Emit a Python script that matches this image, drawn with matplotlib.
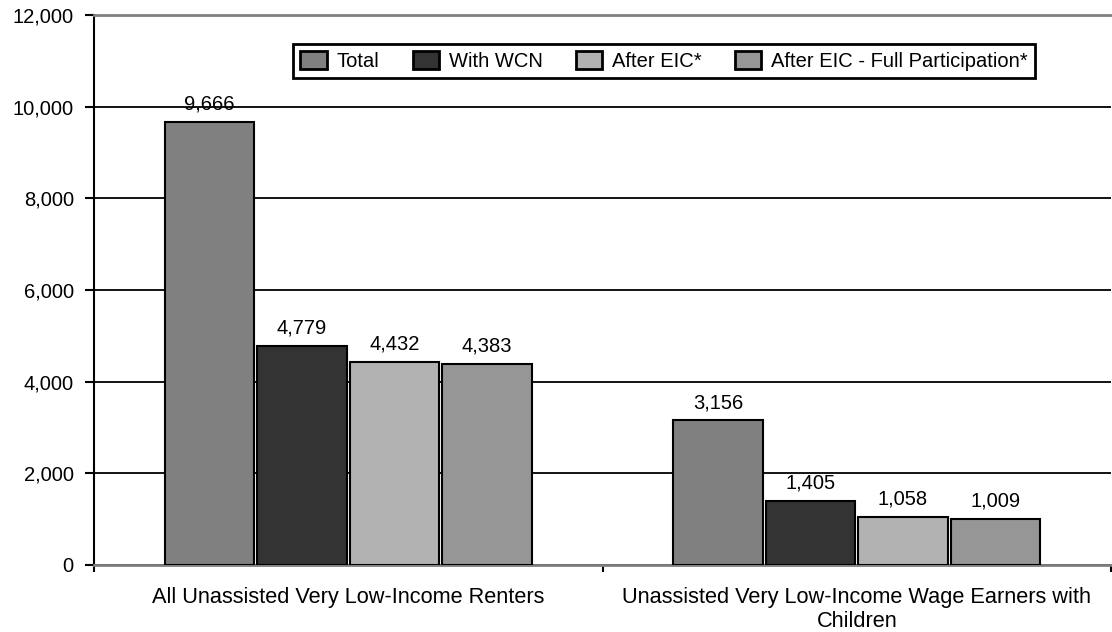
import numpy as np
import matplotlib
matplotlib.use("Agg")
import matplotlib.pyplot as plt
from matplotlib.ticker import FuncFormatter

plt.rcParams['font.family'] = ['Liberation Sans', 'DejaVu Sans']

# data
groups = ["All Unassisted Very Low-Income Renters",
          "Unassisted Very Low-Income Wage Earners with\nChildren"]
series = ["Total", "With WCN", "After EIC*", "After EIC - Full Participation*"]
total = [9666, 3156]
with_wcn = [4779, 1405]
after_eic = [4432, 1058]
after_eic_full = [4383, 1009]
colors = ["#808080", "#333333", "#b2b2b2", "#969696"]

values = [total, with_wcn, after_eic, after_eic_full]

fs = 14.5

fig = plt.figure(figsize=(11.12, 6.32), dpi=100)
ax = fig.add_axes([94 / 1112, 67 / 632, 1017 / 1112, 550 / 632])

centers = np.array([0.5, 1.5])
width = 0.176
step = 0.182
for i, (name, vals) in enumerate(zip(series, values)):
    x = centers + (i - 1.5) * step
    bars = ax.bar(x, vals, width, color=colors[i], edgecolor="black",
                  linewidth=1.5, label=name, zorder=3)
    for b, v in zip(bars, vals):
        ax.annotate(f"{v:,}", (b.get_x() + b.get_width() / 2, v),
                    xytext=(0, 6), textcoords="offset points",
                    ha="center", va="bottom", fontsize=fs)

ax.set_xlim(0, 1.98)
ax.set_ylim(0, 12000)
ax.set_yticks(range(0, 12001, 2000))
ax.yaxis.set_major_formatter(FuncFormatter(lambda v, p: f"{int(v):,}"))
ax.tick_params(axis="y", direction="out", length=6.5, width=1.5, pad=8, labelsize=fs)
ax.grid(axis="y", color="black", linewidth=1.3, zorder=0)

ax.set_xticks([0, 1, 2])
ax.set_xticklabels([])
ax.tick_params(axis="x", which="major", direction="out", length=5, width=1.5)
ax.set_xticks(centers, minor=True)
ax.set_xticklabels(groups, minor=True, fontsize=15.7)
ax.tick_params(axis="x", which="minor", length=0, pad=16)

ax.spines["right"].set_visible(False)
ax.spines["top"].set_color("#808080")
ax.spines["top"].set_linewidth(2)
ax.spines["bottom"].set_color("#808080")
ax.spines["bottom"].set_linewidth(2)
ax.spines["left"].set_linewidth(1.5)

leg = ax.legend(loc="upper left", bbox_to_anchor=(0.196, 0.947), ncol=4,
                fontsize=fs, frameon=True, fancybox=False, framealpha=1,
                edgecolor="black", handlelength=1.3, handleheight=1.0,
                handletextpad=0.5, columnspacing=1.65, borderpad=0.35,
                borderaxespad=0)
leg.get_frame().set_linewidth(2)
for h in leg.legend_handles:
    h.set_linewidth(2)

fig.savefig("out.png", dpi=100)
